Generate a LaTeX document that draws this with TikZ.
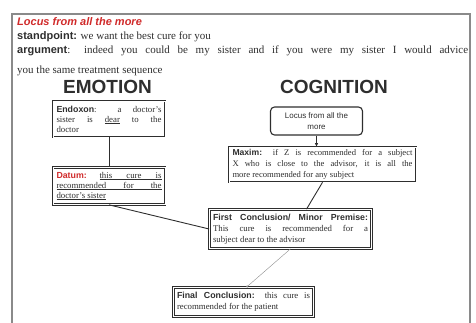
\documentclass[tikz,border=0pt]{standalone}
\usepackage{fontspec}
\setmainfont{Liberation Serif}
\setsansfont{Liberation Sans}
\usetikzlibrary{arrows.meta,calc}
\definecolor{ink}{HTML}{2E2E2E}
\definecolor{lred}{HTML}{D02A2A}
\definecolor{framegray}{HTML}{8A8A8A}

\tikzset{
  frameline/.style={draw=framegray, line width=1.6pt},
  headtext/.style={anchor=base west, inner sep=0pt, text=ink, font=\fontsize{11}{13}\selectfont},
  title/.style={anchor=base, inner sep=0pt, text=ink, font=\sffamily\bfseries\fontsize{19}{21}\selectfont},
  argbox/.style={draw=ink, line width=0.7pt, double=white, double distance=0.9pt,
    text=ink, align=justify, inner xsep=3.5pt, inner ysep=2pt,
    font=\fontsize{8.8}{10.8}\selectfont},
  locusbox/.style={draw=ink, line width=1.1pt, rounded corners=4pt, text=ink,
    align=center, inner sep=2pt, font=\sffamily\fontsize{8}{10.5}\selectfont},
  link/.style={draw=ink, line width=0.9pt},
  thinlink/.style={draw=ink!55, line width=0.4pt},
}
\newcommand{\lbl}[1]{\textsf{\bfseries #1}}
% a full-width, evenly spread line
\newcommand{\spreadline}[1]{\makebox[\linewidth][s]{#1}}

\begin{document}
\begin{tikzpicture}[x=1pt, y=-1pt]
  \useasboundingbox (0,0) rectangle (476,323);

  % open frame round the slide
  \draw[frameline] (12,323) -- (12,14) -- (470,14) -- (470,323);

  % heading lines
  \node[headtext, text=lred] (locushead) at (17,26)
    {\textsf{\bfseries\itshape Locus from all the more}};
  \node[headtext] (standpoint) at (17,40)
    {\lbl{standpoint:} we want the best cure for you};
  \node[headtext] (argument) at (17,54)
    {\makebox[451pt][s]{\lbl{argument}: indeed you could be my sister and if you were my sister I would advice}};
  \node[headtext] (argument2) at (17,74)
    {you the same treatment sequence};

  % column titles
  \node[title] (emotion) at (107.5,94) {EMOTION};
  \node[title] (cognition) at (334,94) {COGNITION};

  % emotion column
  \node[argbox, text width=105pt, minimum height=36pt,
        font=\fontsize{8.8}{10}\selectfont] (endoxon) at (109,119)
    {\lbl{Endoxon}: a doctor's\linebreak
     sister is \underline{dear} to the\linebreak
     doctor};
  \node[argbox, text width=105pt, minimum height=37pt,
        font=\fontsize{8.8}{10}\selectfont] (datum) at (109,186)
    {\textcolor{lred}{\lbl{Datum:}}\hfill\underline{\makebox[62pt][s]{this cure is}}\linebreak
     \underline{\spreadline{recommended for the}}\linebreak
     \underline{doctor's sister}};

  % cognition column
  \node[locusbox, minimum width=92pt, minimum height=28pt] (locus) at (316.5,121)
    {Locus from all the\\ more};
  \node[argbox, text width=180pt, minimum height=35pt,
        font=\fontsize{8.6}{10.8}\selectfont] (maxim) at (322.5,164.5)
    {\lbl{Maxim:} if Z is recommended for a subject\linebreak
     X who is close to the advisor, it is all the\linebreak
     more recommended for any subject};

  % conclusions
  \node[argbox, text width=155pt, minimum height=39pt] (first) at (290.5,229)
    {\lbl{First Conclusion/ Minor Premise:}\linebreak
     This cure is recommended for a\linebreak
     subject dear to the advisor};
  \node[argbox, text width=133pt, minimum height=29pt] (final) at (243.5,302)
    {\lbl{Final Conclusion:} this cure is\linebreak
     recommended for the patient};

  % connectors
  \draw[link] (endoxon.south) -- (datum.north);
  \draw[link, -{Latex[length=3.5pt,width=3.5pt]}] (locus.south) -- (locus.south |- maxim.north);
  \draw[link] (maxim.south) -- ($(first.north)+(16,0)$);
  \draw[link] (datum.south) -- (first.west);
  \draw[thinlink, -{Circle[length=2.2pt]}] (first.south) -- ($(final.north)+(3,0)$);
\end{tikzpicture}
\end{document}
